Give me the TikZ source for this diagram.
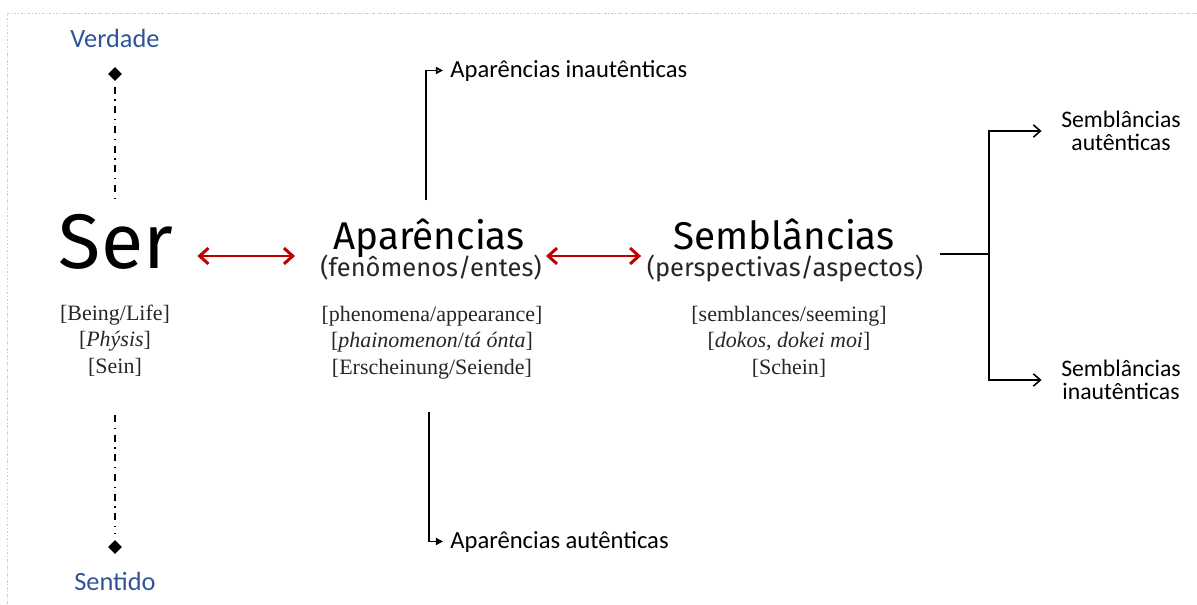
\documentclass[tikz,border=0pt]{standalone}
\usepackage{fontspec}
\setmainfont{Liberation Serif}
\newfontfamily\dinfont{Fira Sans}
\newfontfamily\calfont{Carlito}
\usetikzlibrary{arrows.meta, shapes.geometric}
\definecolor{poleblue}{HTML}{2F5597}
\definecolor{arrowred}{HTML}{C00000}

\begin{document}
\begin{tikzpicture}[x=0.02cm, y=-0.02cm, >=Stealth,
  big/.style={font=\dinfont\fontsize{22}{24}\selectfont, inner sep=0pt, anchor=base},
  sub/.style={font=\dinfont\fontsize{14.5}{17}\selectfont, inner sep=0pt, anchor=base, text=black!85},
  term/.style={font=\fontsize{12.5}{15}\selectfont, align=center, inner sep=0pt, anchor=base, text=black!85},
  lbl/.style={font=\calfont\fontsize{14}{16}\selectfont, inner sep=0pt, anchor=base west},
  semlbl/.style={font=\calfont\fontsize{13.5}{13.2}\selectfont, align=center, inner sep=0pt},
  pole/.style={font=\calfont\fontsize{15}{18}\selectfont, text=poleblue, inner sep=0pt, anchor=base},
  tipmark/.style={diamond, fill=black, inner sep=0pt, minimum size=8pt},
  axisline/.style={line width=1.5pt, dash pattern=on 4pt off 3.2pt on 0.8pt off 3.2pt},
  biarrow/.style={arrowred, line width=1.7pt, {Straight Barb[length=5pt,width=9pt]}-{Straight Barb[length=5pt,width=9pt]}},
  branch/.style={line width=0.9pt, -{Straight Barb[length=4pt,width=7pt]}},
  frame/.style={gray!40, dash pattern=on 1.5pt off 1pt on 0.5pt off 1pt}]
  \useasboundingbox (0,0) rectangle (1197,605);
  \draw[frame] (1197,13) -- (7,13) -- (7,605);

  \node[pole] (verdade) at (115,48)  {Verdade};
  \node[pole] (sentido) at (115,590) {Sentido};
  \node[tipmark] (dtop) at (115,74)  {};
  \node[tipmark] (dbot) at (115,547) {};

  \node[big, font=\dinfont\fontsize{44}{48}\selectfont] (ser) at (116,268) {Ser};
  \node[big] (apar)     at (429,249) {Aparências};
  \node[sub] (aparsub)  at (431,276) {(fenômenos/entes)};
  \node[big] (sembl)    at (784,249) {Semblâncias};
  \node[sub] (semblsub) at (785,276) {(perspectivas/aspectos)};

  \node[term] (serterm)   at (115,373) {[Being/Life]\\{[}\textit{Phýsis}]\\{[}Sein]};
  \node[term] (aparterm)  at (432,374) {[phenomena/appearance]\\{[}\textit{phainomenon}/\textit{tá ónta}]\\{[}Erscheinung/Seiende]};
  \node[term] (semblterm) at (789,374) {[semblances/seeming]\\{[}\textit{dokos}, \textit{dokei moi}]\\{[}Schein]};

  \node[lbl] (inaut) at (450,77)  {Aparências inautênticas};
  \node[lbl] (aut)   at (450,548) {Aparências autênticas};
  \node[semlbl] (semaut)   at (1121,131) {Semblâncias\\autênticas};
  \node[semlbl] (seminaut) at (1121,380) {Semblâncias\\inautênticas};

  \coordinate (axtop) at (115,202);
  \coordinate (axbot) at (115,415);
  \coordinate (fork)  at (989,254);
  \draw[axisline, shorten <=3pt] (dtop.south) -- (axtop);
  \draw[axisline, shorten >=3pt] (axbot) -- (dbot.north);

  \draw[biarrow] ([shift={(24,-12)}]ser.base east) -- ([shift={(-38,7)}]apar.base west);
  \draw[biarrow] ([shift={(21,7)}]apar.base east) -- ([shift={(-32,7)}]sembl.base west);

  \draw[line width=0.9pt, -{Triangle[open,length=4pt,width=4pt]}, shorten >=4pt]
    ([shift={(-3,-18)}]apar.north) |- (inaut.west);
  \draw[line width=0.9pt, -{Triangle[length=4pt,width=4pt]}, shorten >=4pt]
    ([shift={(-3,33)}]aparterm.south) |- (aut.west);

  \draw[line width=0.9pt] ([shift={(16,-22)}]semblsub.base east) -- (fork);
  \draw[branch, shorten >=11pt] (fork) |- (semaut.west);
  \draw[branch, shorten >=11pt] (fork) |- (seminaut.west);
\end{tikzpicture}
\end{document}
